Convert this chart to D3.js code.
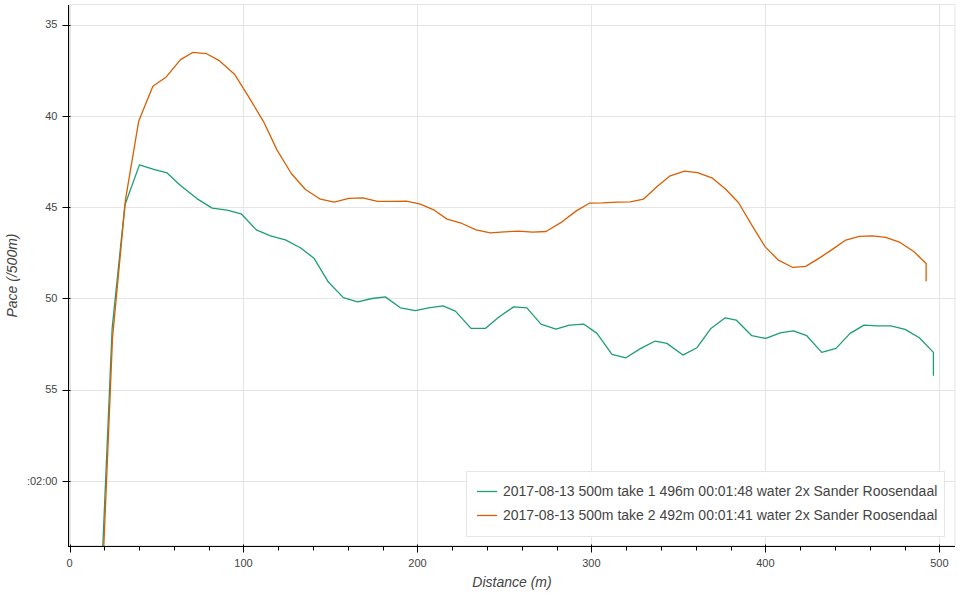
<!DOCTYPE html>
<html>
<head>
<meta charset="utf-8">
<script src="https://cdn.jsdelivr.net/npm/d3@7"></script>
<style>
  html, body { margin: 0; padding: 0; background: #fff; }
  svg { display: block; font-family: Helvetica, Arial, "Liberation Sans", sans-serif; }
</style>
</head>
<body>
<svg id="chart" width="960" height="594"></svg>
<script>
// ---- data ----
const seriesNames = [
  "2017-08-13 500m take 1 496m 00:01:48 water 2x Sander Roosendaal",
  "2017-08-13 500m take 2 492m 00:01:41 water 2x Sander Roosendaal"
];
const seriesColors = ["#1b9e77", "#d95f02"];

const distance1 = [18.0, 24.5, 31.8, 40.2, 48.4, 56.1, 63.8, 73.4, 82.0, 90.6, 98.6, 107.4, 115.5, 124.1, 132.7, 140.5, 148.8, 157.4, 165.6, 173.9, 181.5, 190.2, 198.8, 206.4, 214.7, 221.8, 230.8, 239.0, 247.0, 255.3, 262.9, 271.0, 279.6, 287.4, 295.5, 303.2, 311.8, 319.8, 328.4, 336.7, 343.4, 352.6, 360.6, 368.7, 376.9, 383.2, 392.2, 400.3, 408.5, 416.1, 423.8, 432.4, 440.6, 448.7, 456.7, 464.0, 472.1, 480.3, 488.5, 496.6, 496.6];
const pace1 = [66.1, 51.65, 44.9, 42.69, 42.94, 43.13, 43.82, 44.55, 45.06, 45.17, 45.37, 46.25, 46.58, 46.80, 47.23, 47.80, 49.11, 49.96, 50.19, 50.01, 49.92, 50.52, 50.68, 50.52, 50.41, 50.70, 51.65, 51.65, 51.01, 50.47, 50.52, 51.41, 51.69, 51.47, 51.41, 51.92, 53.07, 53.26, 52.74, 52.34, 52.47, 53.11, 52.71, 51.65, 51.07, 51.19, 52.05, 52.20, 51.89, 51.78, 52.05, 52.96, 52.74, 51.92, 51.47, 51.51, 51.51, 51.70, 52.16, 52.96, 54.24];

const distance2 = [18.4, 24.7, 32.2, 39.8, 47.9, 55.6, 63.8, 70.8, 78.5, 85.8, 95.0, 103.0, 111.6, 119.3, 127.5, 135.6, 144.2, 152.2, 160.5, 168.5, 177.1, 185.4, 193.6, 201.7, 209.7, 217.0, 225.6, 233.7, 241.9, 249.9, 258.1, 266.2, 273.9, 283.1, 291.3, 298.8, 306.4, 314.7, 322.3, 329.9, 337.6, 345.3, 353.5, 361.0, 369.2, 376.9, 384.5, 392.2, 399.9, 407.5, 415.8, 423.2, 430.9, 438.5, 446.2, 454.0, 461.5, 469.2, 477.4, 485.1, 492.4, 492.4];
const pace2 = [66.6, 52.18, 44.58, 40.28, 38.38, 37.87, 36.92, 36.53, 36.59, 36.96, 37.74, 38.96, 40.33, 41.88, 43.16, 44.04, 44.57, 44.73, 44.53, 44.50, 44.69, 44.69, 44.68, 44.84, 45.17, 45.66, 45.90, 46.25, 46.41, 46.36, 46.32, 46.37, 46.34, 45.81, 45.21, 44.79, 44.77, 44.73, 44.72, 44.57, 43.89, 43.29, 43.03, 43.11, 43.40, 44.00, 44.75, 45.99, 47.18, 47.91, 48.31, 48.25, 47.80, 47.32, 46.81, 46.61, 46.58, 46.66, 46.94, 47.42, 48.09, 49.06];

const xTickValues = [0, 100, 200, 300, 400, 500];
const xMinorTickValues = [20, 40, 60, 80, 120, 140, 160, 180, 220, 240, 260, 280, 320, 340, 360, 380, 420, 440, 460, 480, 520];
const yTickValues = [35, 40, 45, 50, 55, 60];
const yTickLabels = ["35", "40", "45", "50", "55", ":02:00"];

const xLabel = "Distance (m)";
const yLabel = "Pace (/500m)";

// ---- layout ----
const svg = d3.select("#chart");
const plot = { left: 69, right: 955, top: 5, bottom: 546 };

const x = d3.scaleLinear().domain([-0.3, 509]).range([plot.left, plot.right]);
const y = d3.scaleLinear().domain([33.93, 63.57]).range([plot.top, plot.bottom]);

// grid
const grid = svg.append("g");
grid.selectAll(".vg").data(xTickValues).join("line")
  .attr("x1", d => Math.round(x(d)) + 0.5).attr("x2", d => Math.round(x(d)) + 0.5)
  .attr("y1", plot.top).attr("y2", plot.bottom)
  .attr("stroke", "#e5e5e5").attr("stroke-width", 1);
grid.selectAll(".hg").data(yTickValues).join("line")
  .attr("y1", d => Math.round(y(d)) + 0.5).attr("y2", d => Math.round(y(d)) + 0.5)
  .attr("x1", plot.left).attr("x2", plot.right)
  .attr("stroke", "#e5e5e5").attr("stroke-width", 1);

// outline
svg.append("rect")
  .attr("x", plot.left + 0.5).attr("y", plot.top - 0.5)
  .attr("width", plot.right - plot.left - 0.5).attr("height", plot.bottom - plot.top)
  .attr("fill", "none").attr("stroke", "#e5e5e5").attr("stroke-width", 1);

// clip
svg.append("clipPath").attr("id", "clip").append("rect")
  .attr("x", plot.left).attr("y", plot.top)
  .attr("width", plot.right - plot.left).attr("height", plot.bottom - plot.top);

const line = d3.line().x(d => x(d[0])).y(d => y(d[1]));
const series = [
  d3.zip(distance1, pace1),
  d3.zip(distance2, pace2)
];
const lines = svg.append("g").attr("clip-path", "url(#clip)");
series.forEach((s, i) => {
  lines.append("path").datum(s)
    .attr("d", line)
    .attr("fill", "none")
    .attr("stroke", seriesColors[i])
    .attr("stroke-width", 1.3)
    .attr("stroke-linejoin", "round");
});

// x axis
const xAxisG = svg.append("g").attr("transform", `translate(0,${plot.bottom + 0.5})`);
xAxisG.append("line").attr("x1", plot.left).attr("x2", plot.right).attr("stroke", "#000");
xAxisG.selectAll(".xmaj").data(xTickValues).join("line")
  .attr("x1", d => Math.round(x(d)) + 0.5).attr("x2", d => Math.round(x(d)) + 0.5)
  .attr("y1", -2).attr("y2", 6).attr("stroke", "#000");
xAxisG.selectAll(".xmin").data(xMinorTickValues.filter(v => x(v) <= plot.right)).join("line")
  .attr("x1", d => Math.round(x(d)) + 0.5).attr("x2", d => Math.round(x(d)) + 0.5)
  .attr("y1", 0).attr("y2", 4).attr("stroke", "#000");
xAxisG.selectAll(".xlab").data(xTickValues).join("text")
  .attr("x", d => x(d)).attr("y", 20)
  .attr("text-anchor", "middle").attr("font-size", 11).attr("fill", "#444")
  .text(d => d3.format("d")(d));

// y axis
const yAxisG = svg.append("g").attr("transform", `translate(${plot.left - 0.5},0)`);
yAxisG.append("line").attr("y1", plot.top).attr("y2", plot.bottom + 1).attr("stroke", "#000");
yAxisG.selectAll(".ymaj").data(yTickValues).join("line")
  .attr("y1", d => Math.round(y(d)) + 0.5).attr("y2", d => Math.round(y(d)) + 0.5)
  .attr("x1", -6).attr("x2", 2).attr("stroke", "#000");
yAxisG.selectAll(".ylab").data(yTickValues).join("text")
  .attr("x", -11).attr("y", d => y(d))
  .attr("dy", "0.35em")
  .attr("text-anchor", "end").attr("font-size", 11).attr("fill", "#444")
  .text((d, i) => yTickLabels[i]);

// axis labels
svg.append("text")
  .attr("x", (plot.left + plot.right) / 2).attr("y", 587)
  .attr("text-anchor", "middle").attr("font-size", 14).attr("font-style", "italic").attr("fill", "#444")
  .text(xLabel);
svg.append("text")
  .attr("transform", `translate(17,${(plot.top + plot.bottom) / 2}) rotate(-90)`)
  .attr("text-anchor", "middle").attr("font-size", 14).attr("font-style", "italic").attr("fill", "#444")
  .text(yLabel);

// legend
const legend = svg.append("g");
legend.append("rect")
  .attr("x", 466.5).attr("y", 471.5).attr("width", 478).attr("height", 65)
  .attr("fill", "#fff").attr("fill-opacity", 0.95)
  .attr("stroke", "#e5e5e5").attr("stroke-width", 1);
seriesNames.forEach((name, i) => {
  const cy = 491.5 + i * 24;
  legend.append("line")
    .attr("x1", 477).attr("x2", 497).attr("y1", cy).attr("y2", cy)
    .attr("stroke", seriesColors[i]).attr("stroke-width", 1.3);
  legend.append("text")
    .attr("x", 503).attr("y", cy).attr("dy", "0.35em")
    .attr("font-size", 14).attr("fill", "#444")
    .text(name);
});
</script>
</body>
</html>
